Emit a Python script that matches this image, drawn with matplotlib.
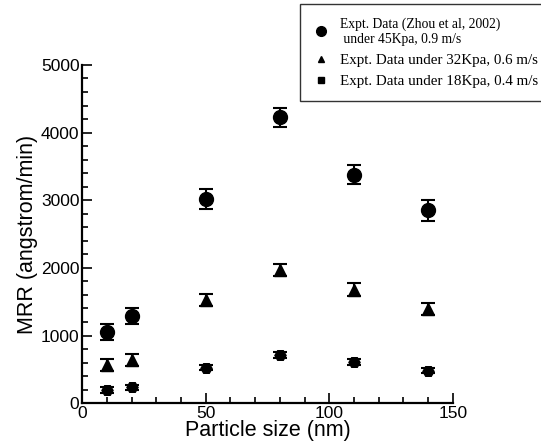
import matplotlib

matplotlib.use("Agg")
import matplotlib.pyplot as plt
from matplotlib.lines import Line2D
from matplotlib.ticker import MultipleLocator

particle_nm = [10, 20, 50, 80, 110, 140]

mrr_45kpa = [1050, 1290, 3015, 4230, 3380, 2850]
err_45kpa = [120, 120, 150, 140, 145, 150]

mrr_32kpa = [565, 635, 1520, 1975, 1680, 1390]
err_32kpa = [90, 90, 90, 90, 90, 90]

mrr_18kpa = [195, 235, 525, 710, 612, 480]
err_18kpa = [40, 40, 40, 40, 40, 40]

labels = [
    "Expt. Data (Zhou et al, 2002)\n under 45Kpa, 0.9 m/s",
    "Expt. Data under 32Kpa, 0.6 m/s",
    "Expt. Data under 18Kpa, 0.4 m/s",
]

plt.rcParams["font.family"] = ["Liberation Sans", "DejaVu Sans"]

fig = plt.figure(figsize=(5.41, 4.48), dpi=100)
ax = fig.add_axes([0.152, 0.1, 0.685, 0.755])

common = dict(ls="none", color="black", ecolor="black", elinewidth=1.5,
              capsize=5, capthick=1.5)
ax.errorbar(particle_nm, mrr_45kpa, yerr=err_45kpa, marker="o", ms=10, **common)
ax.errorbar(particle_nm, mrr_32kpa, yerr=err_32kpa, marker="^", ms=9, **common)
ax.errorbar(particle_nm, mrr_18kpa, yerr=err_18kpa, marker="H", ms=8, **common)

ax.set_xlim(0, 150)
ax.set_ylim(0, 5000)
ax.xaxis.set_major_locator(MultipleLocator(50))
ax.xaxis.set_minor_locator(MultipleLocator(10))
ax.yaxis.set_major_locator(MultipleLocator(1000))
ax.yaxis.set_minor_locator(MultipleLocator(200))
ax.tick_params(which="both", direction="in", width=1.2, labelsize=12.5,
               top=False, right=False)
ax.tick_params(which="major", length=7, pad=2)
ax.tick_params(which="minor", length=4)
for side in ("top", "right"):
    ax.spines[side].set_visible(False)
for side in ("left", "bottom"):
    ax.spines[side].set_linewidth(1.6)

ax.set_xlabel("Particle size (nm)", fontsize=15.5, labelpad=-1)
ax.set_ylabel("MRR (angstrom/min)", fontsize=15.5, labelpad=2)

handles = [
    Line2D([], [], ls="none", marker="o", ms=7, color="black"),
    Line2D([], [], ls="none", marker="^", ms=4, color="black"),
    Line2D([], [], ls="none", marker="s", ms=4, color="black"),
]
leg = fig.legend(handles, labels, loc="upper left",
                 bbox_to_anchor=(300 / 541, 1 - 4 / 448),
                 prop={"family": "Liberation Serif", "size": 10.8},
                 frameon=True, fancybox=False, edgecolor="black",
                 handlelength=1.0, handletextpad=0.75, borderpad=0.9,
                 labelspacing=0.5, borderaxespad=0)
leg.get_frame().set_linewidth(1.0)
leg.get_texts()[0].set_fontsize(9.8)

fig.savefig("out.png", dpi=100)
